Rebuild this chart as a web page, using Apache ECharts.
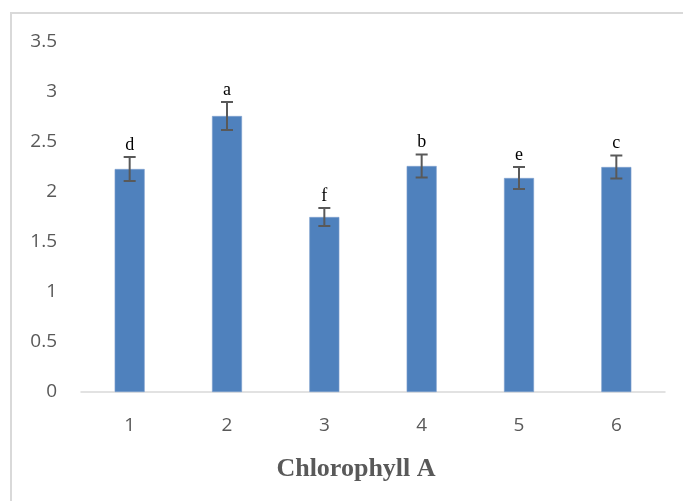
<!DOCTYPE html>
<html><head><meta charset="utf-8">
<script src="https://cdn.jsdelivr.net/npm/echarts@6/dist/echarts.min.js"></script>
<style>html,body{margin:0;padding:0;background:#fff}#c{width:683px;height:501px}</style>
</head><body><div id="c"></div>
<script>
const categories = ['1','2','3','4','5','6'];
const means = [2.23, 2.76, 1.75, 2.26, 2.14, 2.25];
const errors = [0.12, 0.14, 0.09, 0.115, 0.11, 0.115];
const letters = ['d','a','f','b','e','c'];
const yTicks = [0, 0.5, 1, 1.5, 2, 2.5, 3, 3.5];
const axisTitle = 'Chlorophyll A';

const chart = echarts.init(document.getElementById('c'), null, {renderer:'canvas'});
const errData = categories.map((c,i)=>[i, means[i]-errors[i], means[i]+errors[i], letters[i]]);
chart.setOption({
  animation:false,
  graphic:[
    {type:'rect', shape:{x:11,y:13,width:700,height:520}, style:{fill:'none', stroke:'#d9d9d9', lineWidth:2}, z:-1},
    {type:'text', x:356, y:469, style:{text:axisTitle, fill:'#595959', font:'bold 26px "Liberation Serif"', align:'center', verticalAlign:'middle'}}
  ],
  grid:{left:81, right:18, top:42, bottom:109},
  xAxis:{type:'category', data:categories,
    axisLine:{lineStyle:{color:'#d9d9d9', width:1.5}}, axisTick:{show:false},
    axisLabel:{color:'#595959', fontSize:19, fontFamily:'Open Sans', margin:24}},
  yAxis:{type:'value', min:0, max:3.5, interval:0.5,
    splitLine:{show:false}, axisLine:{show:false}, axisTick:{show:false},
    axisLabel:{color:'#595959', fontSize:19, fontFamily:'Open Sans', margin:24,
      formatter:v=>yTicks.includes(v)?String(v):''}},
  series:[
    {type:'bar', data:means, barWidth:30, itemStyle:{color:'#4f81bd', borderColor:'#7da0cf', borderWidth:0.6}},
    {type:'custom', data:errData, z:10,
      renderItem:(params, api)=>{
        const x = api.value(0);
        const lo = api.coord([x, api.value(1)]);
        const hi = api.coord([x, api.value(2)]);
        const hw = 6;
        const st = {stroke:'#595959', lineWidth:2};
        return {type:'group', children:[
          {type:'line', shape:{x1:lo[0],y1:lo[1],x2:hi[0],y2:hi[1]}, style:st},
          {type:'line', shape:{x1:lo[0]-hw,y1:lo[1],x2:lo[0]+hw,y2:lo[1]}, style:st},
          {type:'line', shape:{x1:hi[0]-hw,y1:hi[1],x2:hi[0]+hw,y2:hi[1]}, style:st},
          {type:'text', x:hi[0], y:hi[1]-3, style:{text:api.value(3), fill:'#000', font:'18px "Liberation Serif"', align:'center', verticalAlign:'bottom'}}
        ]};
      }}
  ]
});
</script></body></html>
